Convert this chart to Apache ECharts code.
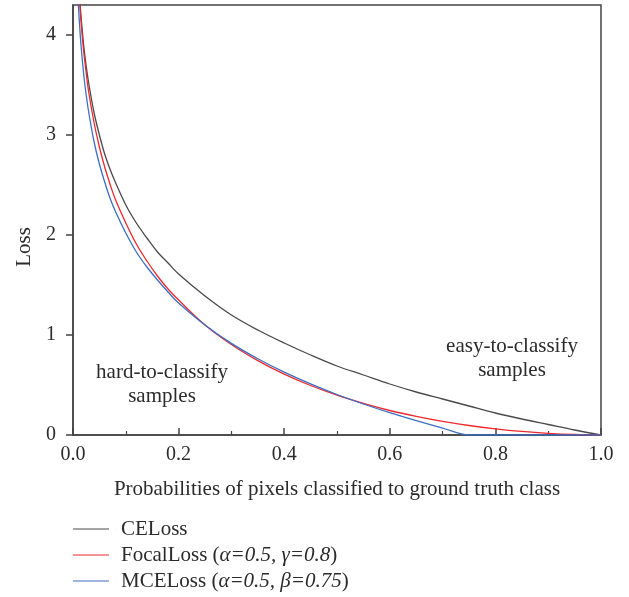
<!DOCTYPE html>
<html>
<head>
<meta charset="utf-8">
<script src="https://cdn.jsdelivr.net/npm/echarts@6/dist/echarts.min.js"></script>
<style>
  html, body { margin: 0; padding: 0; background: #fff; }
  #chart { width: 629px; height: 597px; }
</style>
</head>
<body>
<div id="chart"></div>
<script>
// probability of the true class (x values)
const probs = [0.008, 0.01, 0.012, 0.015, 0.02, 0.025, 0.03, 0.04, 0.05, 0.06, 0.07, 0.08,
  0.1, 0.12, 0.14, 0.16, 0.18, 0.2, 0.25, 0.3, 0.35, 0.4, 0.45, 0.5, 0.55, 0.6, 0.65,
  0.7, 0.75, 0.8, 0.85, 0.9, 0.95, 1.0];

// loss values
const ceLoss = [4.83, 4.61, 4.42, 4.20, 3.91, 3.69, 3.51, 3.22, 3.00, 2.81, 2.66, 2.53,
  2.30, 2.12, 1.97, 1.83, 1.72, 1.61, 1.39, 1.20, 1.05, 0.92, 0.80, 0.69, 0.60, 0.51, 0.43,
  0.36, 0.29, 0.22, 0.16, 0.105, 0.05, 0];
const focalLoss = [4.80, 4.57, 4.38, 4.15, 3.85, 3.62, 3.42, 3.12, 2.88, 2.68, 2.51, 2.36,
  2.12, 1.91, 1.74, 1.59, 1.46, 1.35, 1.10, 0.905, 0.744, 0.609, 0.495, 0.398, 0.316, 0.245, 0.186,
  0.136, 0.095, 0.062, 0.036, 0.017, 0.005, 0];
const mceLoss = [4.54, 4.32, 4.14, 3.91, 3.62, 3.40, 3.22, 2.93, 2.71, 2.53, 2.37, 2.24,
  2.02, 1.83, 1.68, 1.55, 1.43, 1.32, 1.10, 0.916, 0.762, 0.628, 0.511, 0.405, 0.310, 0.223, 0.143,
  0.069, 0, 0, 0, 0, 0, 0];

const seriesNames = ['CELoss', 'FocalLoss', 'MCELoss'];
const seriesColors = ['#4a4a4a', '#f0282d', '#3a6fc4'];
const xTicks = [0, 0.2, 0.4, 0.6, 0.8, 1.0];
const yTicks = [0, 1, 2, 3, 4];

const FONT = '"Liberation Serif", "DejaVu Serif", serif';
const AXIS = '#444';
const TEXT = '#2b2b2b';

const chart = echarts.init(document.getElementById('chart'));

const pair = (ys) => probs.map((p, i) => [p, ys[i]]);

// legend icon: a short line with empty room on its right, to push the text away
const legendIcon = 'path://M0,0H36V1H0Z M42.9,0H43V1H42.9Z';

const makeLine = (name, ys, color) => ({
  name: name, type: 'line', data: pair(ys),
  symbol: 'none', smooth: 0.35, clip: true,
  lineStyle: { color: color, width: 1.3 }, itemStyle: { color: color }
});

chart.setOption({
  animation: false,
  textStyle: { fontFamily: FONT, color: TEXT },
  grid: {
    left: 73, right: 28, top: 5, bottom: 162,
    show: true, borderColor: AXIS, borderWidth: 1.5
  },
  xAxis: {
    type: 'value',
    min: 0, max: 1, interval: 0.2,
    name: 'Probabilities of pixels classified to ground truth class',
    nameLocation: 'middle',
    nameGap: 44,
    nameTextStyle: { fontFamily: FONT, fontSize: 21, color: TEXT },
    axisLine: { lineStyle: { color: AXIS, width: 1.5 } },
    axisTick: { inside: true, length: 7, lineStyle: { color: AXIS, width: 1.5 }, customValues: xTicks },
    minorTick: { show: true, splitNumber: 2, length: 4, lineStyle: { color: AXIS, width: 1.2 } },
    axisLabel: {
      fontFamily: FONT, fontSize: 20, color: TEXT, margin: 10,
      customValues: xTicks,
      formatter: (v) => v.toFixed(1)
    },
    splitLine: { show: false }
  },
  yAxis: {
    type: 'value',
    min: 0, max: 4.3, interval: 1,
    name: 'Loss',
    nameLocation: 'middle',
    nameGap: 38,
    nameTextStyle: { fontFamily: FONT, fontSize: 21, color: TEXT, padding: [0, 54, 0, 0] },
    axisLine: { show: true, lineStyle: { color: AXIS, width: 1.5 } },
    axisTick: { show: true, length: 7, lineStyle: { color: AXIS, width: 1.5 }, customValues: yTicks },
    axisLabel: { fontFamily: FONT, fontSize: 20, color: TEXT, margin: 17, customValues: yTicks },
    splitLine: { show: false }
  },
  legend: {
    orient: 'vertical',
    left: 73, top: 517,
    padding: 0,
    itemWidth: 43, itemHeight: 1.6, itemGap: 2,
    icon: legendIcon,
    data: seriesNames,
    textStyle: {
      fontFamily: FONT, fontSize: 21, color: TEXT, lineHeight: 24,
      rich: {
        it: { fontFamily: FONT, fontSize: 21, fontStyle: 'italic', color: TEXT, lineHeight: 24 }
      }
    },
    formatter: (name) => {
      if (name === 'FocalLoss') return 'FocalLoss ({it|α=0.5, γ=0.8})';
      if (name === 'MCELoss') return 'MCELoss ({it|α=0.5, β=0.75})';
      return name;
    }
  },
  graphic: [
    { type: 'text', x: 162, y: 384, style: { text: 'hard-to-classify\nsamples', font: '21px ' + FONT, fill: TEXT, textAlign: 'center', textVerticalAlign: 'middle', lineHeight: 24 } },
    { type: 'text', x: 512, y: 358, style: { text: 'easy-to-classify\nsamples', font: '21px ' + FONT, fill: TEXT, textAlign: 'center', textVerticalAlign: 'middle', lineHeight: 24 } }
  ],
  series: [
    makeLine(seriesNames[0], ceLoss, seriesColors[0]),
    makeLine(seriesNames[1], focalLoss, seriesColors[1]),
    makeLine(seriesNames[2], mceLoss, seriesColors[2])
  ]
});
</script>
</body>
</html>
